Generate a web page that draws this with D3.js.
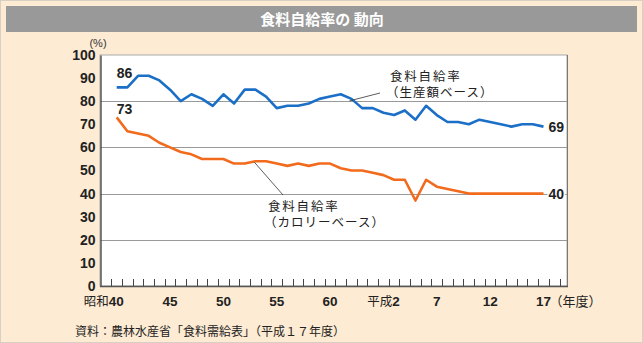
<!DOCTYPE html>
<html lang="ja">
	<head>
		<meta charset="utf-8">
		<title>食料自給率の動向</title>
		<script type="text/javascript" src="https://cdn.jsdelivr.net/npm/d3@7"></script>
		<style type="text/css">
			body { margin: 0; background: #fff; }
			text { font-family: "Liberation Sans Narrow", "Liberation Sans", "Noto Sans CJK JP", sans-serif; }
			.jp { font-family: "Noto Sans CJK JP", sans-serif; }
		</style>
	</head>
	<body>
		<script type="text/javascript">
			//Width and height
			var w = 643;
			var h = 343;

			// 昭和40 (1965) ... 平成17 (2005)
			var years = d3.range(1965, 2006);

			// 生産額ベース
			var productionBase = [86, 86, 91, 91, 89, 85, 80, 83, 81, 78,
				83, 79, 85, 85, 82, 77, 78, 78, 79, 81,
				82, 83, 81, 77, 77, 75, 74, 76, 72, 78,
				74, 71, 71, 70, 72, 71, 70, 69, 70, 70, 69];

			// カロリーベース
			var calorieBase = [73, 67, 66, 65, 62, 60, 58, 57, 55, 55,
				55, 53, 53, 54, 54, 53, 52, 53, 52, 53,
				53, 51, 50, 50, 49, 48, 46, 46, 37, 46,
				43, 42, 41, 40, 40, 40, 40, 40, 40, 40, 40];

			var tickYears = [1965, 1970, 1975, 1980, 1985, 1990, 1995, 2000, 2005];
			var tickLabels = ["昭和40", "45", "50", "55", "60", "平成2", "7", "12", "17"];
			var yTicks = [0, 10, 20, 30, 40, 50, 60, 70, 80, 90, 100];
			var gridValues = [20, 40, 60, 80];

			var plot = { left: 100, right: 567, top: 55, bottom: 286 };

			var x = d3.scaleLinear()
						.domain([1965, 2005])
						.range([116.7, 543.5]);

			var y = d3.scaleLinear()
						.domain([0, 100])
						.range([plot.bottom, plot.top]);

			//Create SVG element
			var svg = d3.select("body")
						.append("svg")
						.attr("width", w)
						.attr("height", h);

			// background + frame
			svg.append("rect")
				.attr("x", 0.5).attr("y", 0.5)
				.attr("width", w - 1).attr("height", h - 1)
				.style("fill", "#fdebd3")
				.style("stroke", "#d9cfc3");

			// title bar
			svg.append("rect")
				.attr("x", 6).attr("y", 6)
				.attr("width", w - 12).attr("height", 26)
				.style("fill", "#999999");
			svg.append("text")
				.attr("class", "jp")
				.attr("x", 322).attr("y", 25)
				.attr("text-anchor", "middle")
				.style("fill", "#fff")
				.style("font-size", "15px")
				.style("font-weight", "bold")
				.text("食料自給率の 動向");

			// plot area
			svg.append("rect")
				.attr("x", plot.left).attr("y", plot.top)
				.attr("width", plot.right - plot.left)
				.attr("height", plot.bottom - plot.top)
				.style("fill", "#fff")
				.style("stroke", "#aaa")
				.style("stroke-width", 1);

			svg.selectAll("line.grid")
				.data(gridValues)
				.enter()
				.append("line")
				.attr("class", "grid")
				.attr("x1", plot.left).attr("x2", plot.right)
				.attr("y1", function(d) { return Math.round(y(d)) + 0.5; })
				.attr("y2", function(d) { return Math.round(y(d)) + 0.5; })
				.style("stroke", "#999")
				.style("stroke-width", 1);

			// right border
			svg.append("line")
				.attr("x1", plot.right + 0.5).attr("x2", plot.right + 0.5)
				.attr("y1", plot.top).attr("y2", plot.bottom)
				.style("stroke", "#777");

			// y axis
			var yAxis = d3.axisLeft(y)
						.tickValues(yTicks)
						.tickSize(0)
						.tickPadding(5);
			var gy = svg.append("g")
				.attr("transform", "translate(" + (plot.left + 0.5) + ",0)")
				.call(yAxis);
			gy.select(".domain").style("stroke", "#555").style("stroke-width", 1.5);
			gy.selectAll("text")
				.style("font-size", "14px")
				.style("font-weight", "bold")
				.style("fill", "#222");

			svg.append("text")
				.attr("x", 98).attr("y", 47)
				.attr("text-anchor", "middle")
				.style("font-size", "11px")
				.style("fill", "#333")
				.text("(%)");

			// x axis line + ticks at year boundaries
			svg.append("line")
				.attr("x1", plot.left).attr("x2", plot.right + 1)
				.attr("y1", plot.bottom + 0.5).attr("y2", plot.bottom + 0.5)
				.style("stroke", "#555")
				.style("stroke-width", 1.5);

			var boundaryTicks = d3.range(1963.5, 2008, 1).filter(function(d) {
				return x(d) > plot.left + 1 && x(d) < plot.right - 1;
			});
			svg.selectAll("line.xtick")
				.data(boundaryTicks)
				.enter()
				.append("line")
				.attr("class", "xtick")
				.attr("x1", function(d) { return Math.round(x(d)) + 0.5; })
				.attr("x2", function(d) { return Math.round(x(d)) + 0.5; })
				.attr("y1", plot.bottom - 7).attr("y2", plot.bottom)
				.style("stroke", "#444")
				.style("stroke-width", 1);

			var xl = svg.selectAll("text.xlabel")
				.data(tickYears)
				.enter()
				.append("text")
				.attr("class", "xlabel")
				.attr("x", function(d, i) { return i == 0 ? x(d) + 7 : x(d); })
				.attr("y", 306)
				.attr("text-anchor", function(d, i) { return i == 0 ? "end" : "middle"; })
				.style("font-size", "13.5px")
				.style("font-weight", "bold")
				.style("fill", "#222");
			xl.each(function(d, i) {
				var t = d3.select(this);
				var lab = tickLabels[i];
				var m = lab.match(/^(\D*)(\d+)$/);
				if (m[1]) {
					t.append("tspan").attr("class", "jp")
						.style("font-size", "12.5px").style("font-weight", "normal")
						.text(m[1]);
				}
				t.append("tspan").text(m[2]);
			});
			svg.append("text")
				.attr("class", "jp")
				.attr("x", x(2005) + 6).attr("y", 306)
				.style("font-size", "13px")
				.style("fill", "#222")
				.text("（年度）");

			// lines
			var line = d3.line()
						.x(function(d, i) { return x(years[i]); })
						.y(function(d) { return y(d); });

			svg.append("path")
				.datum(productionBase)
				.attr("d", line)
				.style("fill", "none")
				.style("stroke", "#1b6fc6")
				.style("stroke-width", 2.6)
				.style("stroke-linejoin", "round");

			svg.append("path")
				.datum(calorieBase)
				.attr("d", line)
				.style("fill", "none")
				.style("stroke", "#f26b1d")
				.style("stroke-width", 2.6)
				.style("stroke-linejoin", "round");

			// end value labels
			var endLabels = [
				{ v: productionBase[0], x: x(years[0]), y: y(productionBase[0]) - 9, anchor: "start" },
				{ v: calorieBase[0], x: x(years[0]), y: y(calorieBase[0]) - 3, anchor: "start" },
				{ v: productionBase[40], x: x(years[40]) + 5, y: y(productionBase[40]) + 5, anchor: "start" },
				{ v: calorieBase[40], x: x(years[40]) + 5, y: y(calorieBase[40]) + 5, anchor: "start" }
			];
			svg.selectAll("text.vlabel")
				.data(endLabels)
				.enter()
				.append("text")
				.attr("class", "vlabel")
				.attr("x", function(d) { return d.x; })
				.attr("y", function(d) { return d.y; })
				.attr("text-anchor", function(d) { return d.anchor; })
				.style("font-size", "14px")
				.style("font-weight", "bold")
				.style("fill", "#222")
				.style("stroke", "#fff")
				.style("stroke-width", 3)
				.style("paint-order", "stroke")
				.text(function(d) { return d.v; });

			// annotations
			var notes = [
				{ lines: ["食料自給率", "（生産額ベース）"], tx: 390, ty: 81, from: [x(1987) - 2, y(81) + 2], to: [380, 93] },
				{ lines: ["食料自給率", "（カロリーベース）"], tx: 268, ty: 211, from: [x(1978) - 1, y(54) + 1], to: [283, 195] }
			];
			notes.forEach(function(n) {
				svg.append("line")
					.attr("x1", n.from[0]).attr("y1", n.from[1])
					.attr("x2", n.to[0]).attr("y2", n.to[1])
					.style("stroke", "#333")
					.style("stroke-width", 0.8);
				svg.append("text")
					.attr("class", "jp")
					.attr("x", n.tx).attr("y", n.ty)
					.style("font-size", "12.5px")
					.style("letter-spacing", "1.8px")
					.style("fill", "#222")
					.text(n.lines[0]);
				svg.append("text")
					.attr("class", "jp")
					.attr("x", n.tx - 4).attr("y", n.ty + 16)
					.style("font-size", "12.5px")
					.style("letter-spacing", "1px")
					.style("fill", "#222")
					.text(n.lines[1]);
			});

			// source
			svg.append("text")
				.attr("class", "jp")
				.attr("x", 75).attr("y", 336)
				.style("font-size", "12px")
				.style("fill", "#222")
				.text("資料：農林水産省「食料需給表」（平成１７年度）");
		</script>
	</body>
</html>
